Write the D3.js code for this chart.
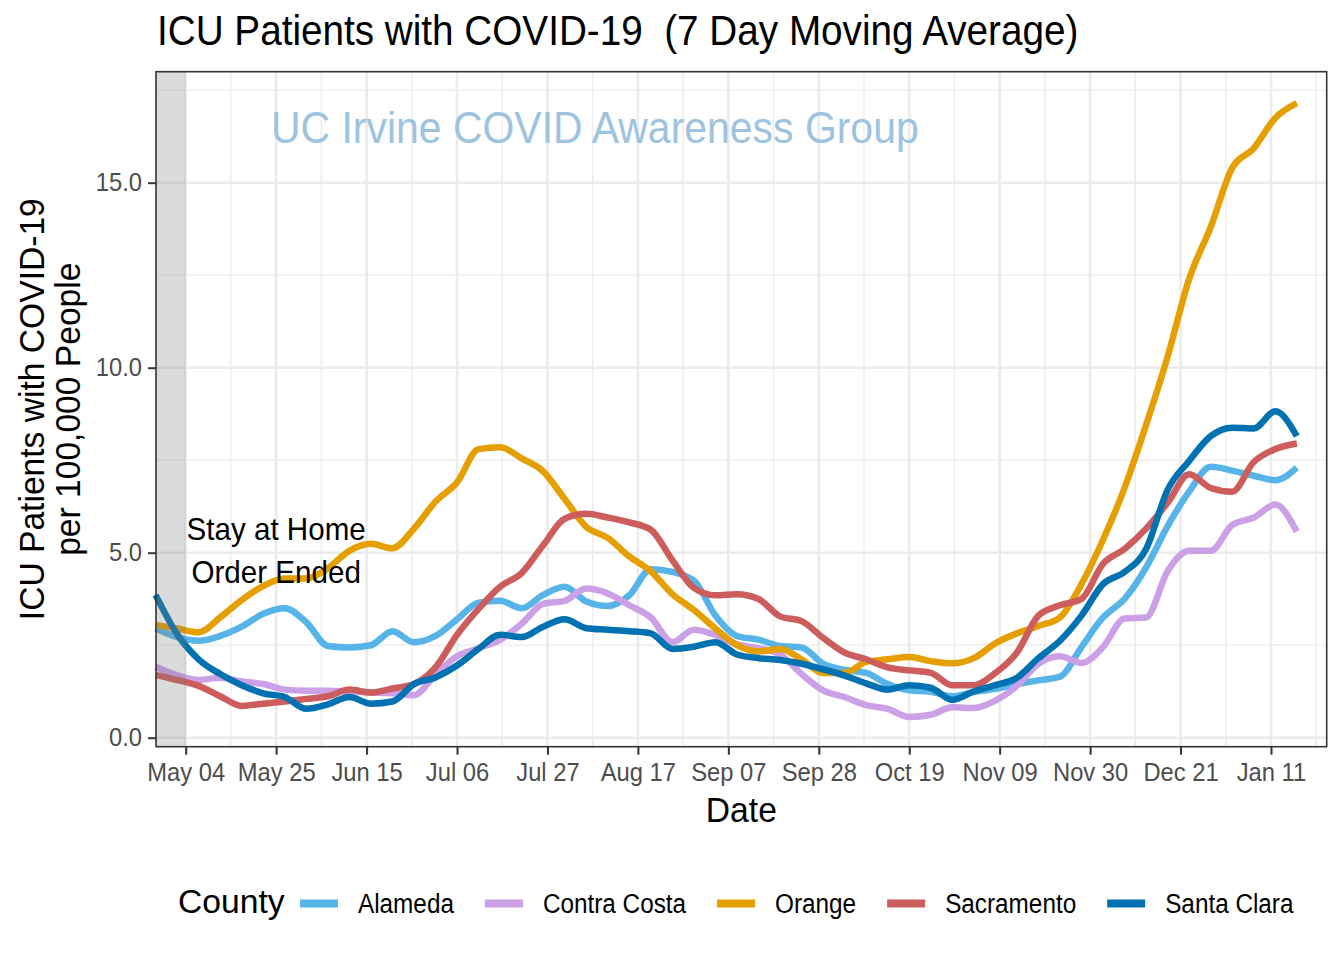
<!DOCTYPE html>
<html><head><meta charset="utf-8">
<script src="https://cdn.jsdelivr.net/npm/d3@7"></script>
<style>
body{margin:0;background:#fff}
svg{display:block}
text{font-family:"Liberation Sans",Arial,Helvetica,sans-serif}
</style>
</head><body>
<svg id="c" width="1344" height="960"></svg>
<script>
// ---------------- DATA ----------------
const dates = ["2020-04-27","2020-05-02","2020-05-07","2020-05-12","2020-05-17","2020-05-22","2020-05-27",
"2020-06-01","2020-06-06","2020-06-11","2020-06-16","2020-06-21","2020-06-26",
"2020-07-01","2020-07-06","2020-07-11","2020-07-16","2020-07-21","2020-07-26","2020-07-31",
"2020-08-05","2020-08-10","2020-08-15","2020-08-20","2020-08-25","2020-08-30",
"2020-09-04","2020-09-09","2020-09-14","2020-09-19","2020-09-24","2020-09-29",
"2020-10-04","2020-10-09","2020-10-14","2020-10-19","2020-10-24","2020-10-29",
"2020-11-03","2020-11-08","2020-11-13","2020-11-18","2020-11-23","2020-11-28",
"2020-12-03","2020-12-08","2020-12-13","2020-12-18","2020-12-23","2020-12-28",
"2021-01-02","2021-01-07","2021-01-12","2021-01-17"];

const counties = ["Alameda","Contra Costa","Orange","Sacramento","Santa Clara"];
const countyColors = ["#56B4E9","#CBA0E6","#E69F00","#CD5C5C","#0072B2"];

const alameda = [2.95,2.72,2.62,2.75,3.00,3.35,3.50,3.12,2.48,2.44,2.50,2.88,2.58,
2.75,3.20,3.65,3.70,3.50,3.86,4.08,3.68,3.56,3.85,4.55,4.48,4.25,
3.30,2.75,2.65,2.48,2.44,2.00,1.83,1.75,1.45,1.28,1.24,1.12,
1.24,1.32,1.45,1.55,1.65,2.45,3.25,3.75,4.60,5.72,6.65,7.32,
7.22,7.08,6.96,7.30];

const contraCosta = [1.92,1.69,1.56,1.62,1.52,1.45,1.30,1.27,1.27,1.25,1.22,1.20,1.15,
1.70,2.20,2.42,2.64,3.08,3.62,3.70,4.03,3.90,3.58,3.25,2.58,2.92,
2.78,2.52,2.42,2.25,1.72,1.28,1.10,0.88,0.78,0.56,0.62,0.82,
0.80,1.00,1.40,2.00,2.20,2.02,2.45,3.22,3.25,4.50,5.05,5.05,
5.75,5.95,6.30,5.57];

const orange = [3.05,2.95,2.85,3.25,3.72,4.10,4.30,4.30,4.58,5.05,5.24,5.12,5.65,
6.38,6.90,7.80,7.85,7.55,7.20,6.45,5.70,5.40,4.90,4.50,3.88,3.45,
2.95,2.50,2.33,2.40,2.12,1.75,1.75,2.05,2.12,2.18,2.07,2.01,
2.15,2.55,2.82,3.02,3.25,4.15,5.35,6.75,8.45,10.30,12.40,13.80,
15.40,15.93,16.75,17.15];

const sacramento = [1.70,1.56,1.40,1.12,0.86,0.92,0.98,1.05,1.12,1.30,1.22,1.33,1.45,
1.90,2.78,3.48,4.08,4.45,5.20,5.92,6.05,5.95,5.82,5.62,4.80,4.05,
3.85,3.88,3.75,3.28,3.15,2.70,2.30,2.12,1.90,1.82,1.75,1.42,
1.42,1.75,2.30,3.30,3.58,3.75,4.70,5.10,5.65,6.35,7.12,6.75,
6.65,7.45,7.80,7.95];

const santaClara = [3.86,2.80,2.12,1.72,1.42,1.20,1.10,0.78,0.90,1.10,0.92,0.98,1.45,
1.63,1.95,2.40,2.78,2.72,3.00,3.20,2.96,2.92,2.88,2.82,2.40,2.46,
2.58,2.25,2.15,2.10,2.00,1.85,1.68,1.47,1.30,1.42,1.35,1.02,
1.25,1.42,1.62,2.15,2.62,3.30,4.15,4.48,5.10,6.70,7.48,8.15,
8.38,8.36,8.82,8.15];

const seriesValues = [alameda, contraCosta, orange, sacramento, santaClara];

const tickDates = ["2020-05-04","2020-05-25","2020-06-15","2020-07-06","2020-07-27","2020-08-17",
"2020-09-07","2020-09-28","2020-10-19","2020-11-09","2020-11-30","2020-12-21","2021-01-11"];
const yTicks = [0,5,10,15];
const yMinor = [2.5,7.5,12.5,17.5];
const orderEndDate = "2020-05-04";

const titleText = "ICU Patients with COVID-19  (7 Day Moving Average)";
const watermarkText = "UC Irvine COVID Awareness Group";
const annotLines = ["Stay at Home","Order Ended"];
const annotDate = "2020-05-25";
const annotValue = 5.33;
const watermarkDate = "2020-08-07";
const watermarkValue = 16.06;
const xTitle = "Date";
const yTitleLines = ["ICU Patients with COVID-19","per 100,000 People"];
const legendTitle = "County";

// ---------------- LAYOUT ----------------
const svg = d3.select("#c");
const P = {left:156, right:1326.7, top:71.7, bottom:746.7};
const parse = d3.utcParse("%Y-%m-%d");
const x = d3.scaleUtc()
  .domain([Date.UTC(2020,3,27,2,30), Date.UTC(2021,0,23,22,30)])
  .range([P.left, P.right]);
const y = d3.scaleLinear().domain([-0.243, 18.0]).range([P.bottom, P.top]);

const fitList = [];
function fit(sel, f){ sel.each(function(){ fitList.push([this,f]); }); return sel; }

// panel background
svg.append("rect").attr("x",P.left).attr("y",P.top)
  .attr("width",P.right-P.left).attr("height",P.bottom-P.top).attr("fill","#fff");

const grid = svg.append("g");
const tickD = tickDates.map(parse);
const dayMs = 86400000;
const minorX = [];
tickD.forEach((d,i)=>{
  if(i===0) minorX.push(new Date(+d - 10.5*dayMs));
  minorX.push(new Date(+d + 10.5*dayMs));
});
const xDom = x.domain();
grid.selectAll(".mx").data(minorX.filter(d=>d>=xDom[0]&&d<=xDom[1])).join("line")
  .attr("x1",d=>x(d)).attr("x2",d=>x(d)).attr("y1",P.top).attr("y2",P.bottom)
  .attr("stroke","#EBEBEB").attr("stroke-width",1.3);
grid.selectAll(".my").data(yMinor).join("line")
  .attr("x1",P.left).attr("x2",P.right).attr("y1",d=>y(d)).attr("y2",d=>y(d))
  .attr("stroke","#EBEBEB").attr("stroke-width",1.3);
grid.selectAll(".Mx").data(tickD).join("line")
  .attr("x1",d=>x(d)).attr("x2",d=>x(d)).attr("y1",P.top).attr("y2",P.bottom)
  .attr("stroke","#EBEBEB").attr("stroke-width",2.6);
grid.selectAll(".My").data(yTicks).join("line")
  .attr("x1",P.left).attr("x2",P.right).attr("y1",d=>y(d)).attr("y2",d=>y(d))
  .attr("stroke","#EBEBEB").attr("stroke-width",2.6);

// watermark
fit(svg.append("text").attr("x",x(parse(watermarkDate))).attr("y",y(watermarkValue))
  .attr("text-anchor","middle").attr("font-size",44.5).attr("fill","#9DC3DF")
  .text(watermarkText), 0.92);

// lines
const dts = dates.map(parse);
const line = d3.line().x((d,i)=>x(dts[i])).y(d=>y(d)).curve(d3.curveMonotoneX);
const lg = svg.append("g");
seriesValues.forEach((vals,i)=>{
  lg.append("path").attr("d",line(vals)).attr("fill","none")
    .attr("stroke",countyColors[i]).attr("stroke-width",6.5)
    .attr("stroke-linejoin","round").attr("stroke-linecap","butt");
});

// shaded region (before the stay-at-home order ended)
svg.append("rect").attr("x",P.left).attr("y",P.top)
  .attr("width",x(parse(orderEndDate))-P.left).attr("height",P.bottom-P.top)
  .attr("fill","#7F7F7F").attr("fill-opacity",0.28);

// annotation
const ann = svg.append("g");
annotLines.forEach((t,i)=>{
  fit(ann.append("text").attr("x",x(parse(annotDate))).attr("y",y(annotValue)+i*42.4)
    .attr("text-anchor","middle").attr("font-size",30.5).attr("fill","#000").text(t), 0.97);
});

// panel border
svg.append("rect").attr("x",P.left).attr("y",P.top)
  .attr("width",P.right-P.left).attr("height",P.bottom-P.top)
  .attr("fill","none").attr("stroke","#333333").attr("stroke-width",1.6);

// axes
const xAxis = svg.append("g").attr("transform",`translate(0,${P.bottom})`)
  .call(d3.axisBottom(x).tickValues(tickD).tickFormat(d3.utcFormat("%b %d"))
    .tickSize(8).tickSizeOuter(0).tickPadding(8.7));
const yAxis = svg.append("g").attr("transform",`translate(${P.left},0)`)
  .call(d3.axisLeft(y).tickValues(yTicks).tickFormat(d3.format(".1f"))
    .tickSize(8).tickSizeOuter(0).tickPadding(6));
[xAxis,yAxis].forEach(a=>{
  a.select(".domain").remove();
  a.selectAll(".tick line").attr("stroke","#333333").attr("stroke-width",2);
  a.selectAll(".tick text").attr("fill","#4D4D4D").attr("font-size",25)
    .attr("font-family",'"Liberation Sans",Arial,sans-serif');
  fit(a.selectAll(".tick text"),0.95);
});

// axis titles
fit(svg.append("text").attr("x",(P.left+P.right)/2).attr("y",822)
  .attr("text-anchor","middle").attr("font-size",35).attr("fill","#000").text(xTitle),0.96);
const yc = (P.top+P.bottom)/2;
yTitleLines.forEach((t,i)=>{
  const bx = 44 + i*35.5;
  fit(svg.append("text").attr("transform",`translate(${bx},${yc}) rotate(-90)`)
    .attr("text-anchor","middle").attr("font-size",35).attr("fill","#000").text(t),0.96);
});

// title (keep the double space)
fit(svg.append("text").attr("x",157).attr("y",44.5).attr("font-size",42.5)
  .attr("fill","#000").attr("xml:space","preserve").style("white-space","pre")
  .text(titleText),0.91);

// legend
const leg = svg.append("g");
fit(leg.append("text").attr("x",178).attr("y",913.3).attr("font-size",34)
  .attr("fill","#000").text(legendTitle),0.99);
let cx = 300;
counties.forEach((c,i)=>{
  leg.append("line").attr("x1",cx).attr("x2",cx+38).attr("y1",903.5).attr("y2",903.5)
    .attr("stroke",countyColors[i]).attr("stroke-width",8);
  const t = leg.append("text").attr("x",cx+58).attr("y",912.7).attr("font-size",27)
    .attr("fill","#000").text(c);
  const w = t.node().getComputedTextLength()*0.9;
  t.attr("textLength",w).attr("lengthAdjust","spacingAndGlyphs");
  cx = cx + 58 + w + 31;
});

// apply horizontal compression to match reference font rendering
fitList.forEach(([el,f])=>{
  const w = el.getComputedTextLength();
  el.setAttribute("textLength", w*f);
  el.setAttribute("lengthAdjust","spacingAndGlyphs");
});
</script>
</body></html>
